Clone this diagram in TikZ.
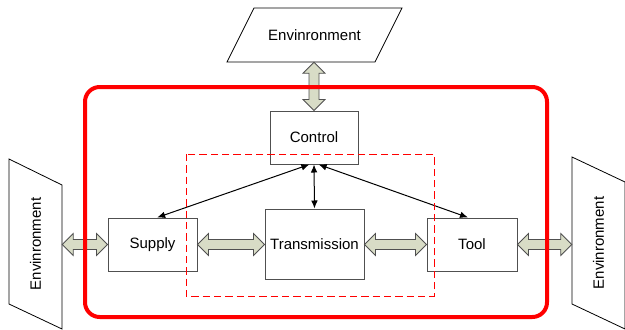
\documentclass[tikz,border=0pt]{standalone}
\usepackage{fontspec}
\setmainfont{Liberation Sans}
\usetikzlibrary{calc}
\usetikzlibrary{arrows.meta}
\definecolor{arrowfill}{RGB}{216,220,198}
\definecolor{boxline}{RGB}{80,80,80}
\tikzset{
	blockstyle/.style={rectangle,draw=boxline,fill=white,line width=0.75pt,minimum width=66.75pt,minimum height=39.75pt,font=\fontsize{11.25}{13}\selectfont},
	envstyle/.style={rectangle,inner sep=0pt,minimum width=108.75pt,minimum height=39.75pt,font=\fontsize{11.25}{13}\selectfont},
	envborder/.style={draw=black,fill=white,line width=0.6pt},
	linkstyle/.style={{Latex[length=6pt,width=5pt]}-{Latex[length=6pt,width=5pt]},line width=0.75pt},
	bigarrow/.style={draw=boxline,fill=arrowfill,line width=0.6pt,
		to path={
			-- ($(\tikztostart)!8.25pt!(\tikztotarget)!8.25pt!90:(\tikztotarget)$)
			-- ($(\tikztostart)!8.25pt!(\tikztotarget)!3.75pt!90:(\tikztotarget)$)
			-- ($(\tikztotarget)!8.25pt!(\tikztostart)!3.75pt!-90:(\tikztostart)$)
			-- ($(\tikztotarget)!8.25pt!(\tikztostart)!8.25pt!-90:(\tikztostart)$)
			-- (\tikztotarget)
			-- ($(\tikztotarget)!8.25pt!(\tikztostart)!8.25pt!90:(\tikztostart)$)
			-- ($(\tikztotarget)!8.25pt!(\tikztostart)!3.75pt!90:(\tikztostart)$)
			-- ($(\tikztostart)!8.25pt!(\tikztotarget)!3.75pt!-90:(\tikztotarget)$)
			-- ($(\tikztostart)!8.25pt!(\tikztotarget)!8.25pt!-90:(\tikztotarget)$)
			-- cycle}}
}
\begin{document}
\begin{tikzpicture}[x=0.75pt,y=-0.75pt]
		\useasboundingbox (0,0) rectangle (625,329);
		% environment outlines
		\draw[envborder] (227,62) -- (375,62) -- (402,8) -- (254,8) -- cycle;
		\draw[envborder] (9,159) -- (62,185) -- (62,329) -- (9,304) -- cycle;
		\draw[envborder] (572,157) -- (625,182) -- (625,329) -- (572,304) -- cycle;
		\node[envstyle,minimum height=40.5pt] (envtop) at (314.5,35) {Envinronment};
		\node[envstyle,rotate=90] (envleft) at (35.5,244) {Envinronment};
		\node[envstyle,rotate=90] (envright) at (598.5,243) {Envinronment};
		\node[blockstyle,minimum width=66pt] (control) at (314,137.5) {Control};
		\node[blockstyle] (supply) at (152.5,244.5) {Supply};
		\node[blockstyle,minimum width=74.25pt,minimum height=52.5pt] (transmission) at (314.5,244) {Transmission};
		\node[blockstyle,minimum width=67.5pt] (tool) at (472,244.5) {Tool};
		\draw[bigarrow] (control |- envtop.south) to (control.north);
		\draw[bigarrow] (envleft.south |- supply) to (supply.west);
		\draw[bigarrow] (supply.east) to (transmission.west |- supply);
		\draw[bigarrow] (transmission.east |- tool) to (tool.west);
		\draw[bigarrow] (tool.east) to (envright.north |- tool);
		\draw[linkstyle] ([xshift=-3.5pt]control.south) -- ([xshift=3.5pt]supply.north);
		\draw[linkstyle] (control.south) -- (transmission.north);
		\draw[linkstyle] ([xshift=3.5pt]control.south) -- ([xshift=-3pt]tool.north);
		\draw[red,dashed,line width=0.75pt,dash pattern=on 5.5pt off 3pt] (186,154) rectangle (434,296);
		\draw[red,line width=3pt,rounded corners=11pt] (85,87) rectangle (547,317);
		\end{tikzpicture}
\end{document}
